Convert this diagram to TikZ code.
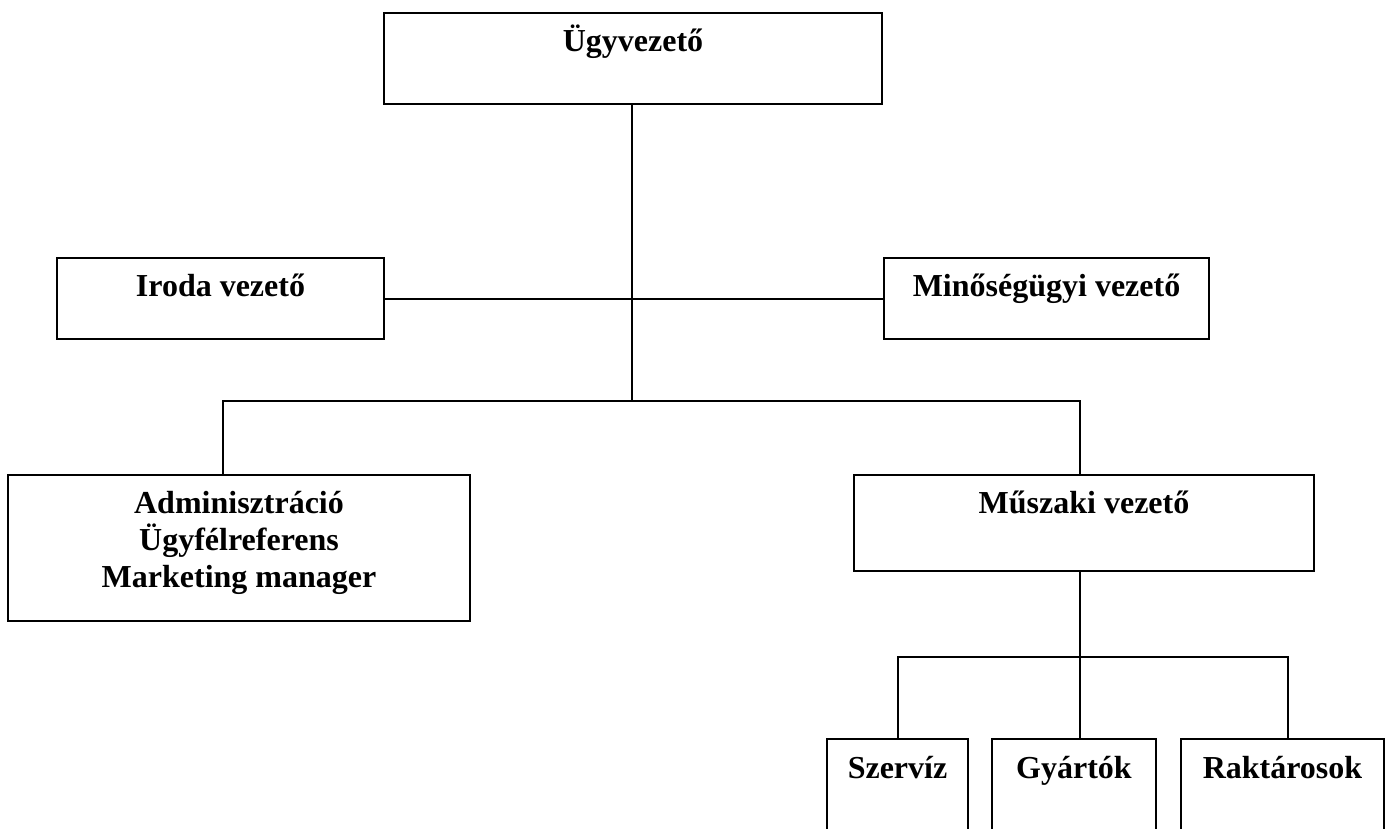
\documentclass[tikz,border=0pt]{standalone}
\usepackage{fontspec}
\setmainfont{Liberation Serif}
\begin{document}
\begin{tikzpicture}[x=1pt,y=-1pt,
  box/.style={draw, line width=2pt, rectangle, inner sep=0pt, anchor=north west},
  conn/.style={line width=2pt},
  lbl/.style={font=\bfseries\fontsize{32}{37}\selectfont, anchor=base, inner sep=0pt}]
\useasboundingbox (0,0) rectangle (1387,829);
\clip (0,0) rectangle (1387,829);
% boxes
\node[box, minimum width=498pt, minimum height=91pt] (ugy) at (383,12) {};
\node[box, minimum width=327pt, minimum height=81pt] (iroda) at (56,257) {};
\node[box, minimum width=325pt, minimum height=81pt] (minoseg) at (883,257) {};
\node[box, minimum width=462pt, minimum height=146pt] (admin) at (7,474) {};
\node[box, minimum width=460pt, minimum height=96pt] (musz) at (853,474) {};
\node[box, minimum width=141pt, minimum height=140pt] (szer) at (826,738) {};
\node[box, minimum width=164pt, minimum height=140pt] (gyar) at (991,738) {};
\node[box, minimum width=203pt, minimum height=140pt] (rakt) at (1180,738) {};
% texts
\node[lbl] (tugy) at ([yshift=-40pt]ugy.north) {Ügyvezető};
\node[lbl] (tiroda) at ([yshift=-39pt]iroda.north) {Iroda vezető};
\node[lbl] (tmin) at ([yshift=-39pt]minoseg.north) {Minőségügyi vezető};
\node[lbl] (tadmin) at ([yshift=-39pt]admin.north) {\tabcolsep=0pt\begin{tabular}[t]{c}Adminisztráció\\Ügyfélreferens\\Marketing manager\end{tabular}};
\node[lbl] (tmusz) at ([yshift=-39pt]musz.north) {Műszaki vezető};
\node[lbl] (tszer) at ([yshift=-40pt]szer.north) {Szervíz};
\node[lbl] (tgyar) at ([yshift=-40pt]gyar.north) {Gyártók};
\node[lbl] (trakt) at ([yshift=-40pt]rakt.north) {Raktárosok};
% junctions
\coordinate (j0) at (632,401);
\coordinate (jl) at (223,401);
\coordinate (jr) at (1080,401);
\coordinate (kc) at (1080,657);
\coordinate (kl) at (898,657);
\coordinate (kr) at (1288,657);
% connectors
\draw[conn] (j0 |- ugy.south) -- (j0);
\draw[conn] (iroda.east) -- (minoseg.west);
\draw[conn] (jl |- admin.north) -- (jl) -- (jr) -- (jr |- musz.north);
\draw[conn] (kc |- musz.south) -- (kc) -- (kc |- gyar.north);
\draw[conn] (kl |- szer.north) -- (kl) -- (kr) -- (kr |- rakt.north);
\end{tikzpicture}
\end{document}
